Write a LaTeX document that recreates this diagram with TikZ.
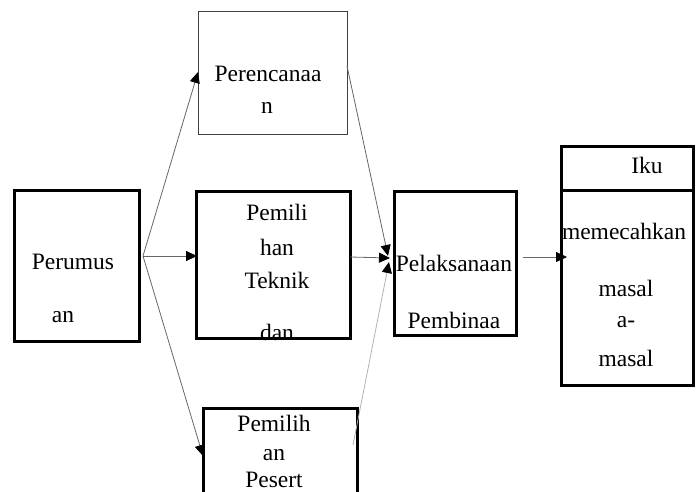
\documentclass[tikz,border=0pt]{standalone}
\usepackage{fontspec}
\setmainfont{Liberation Serif}
\usetikzlibrary{arrows.meta}
\begin{document}
\begin{tikzpicture}[x=1pt,y=-1pt,
  boxthick/.style={draw=black,line width=3pt},
  boxthin/.style={draw=black!75,line width=0.9pt},
  lbl/.style={font=\fontsize{23.5}{25}\selectfont,inner sep=0pt,anchor=center},
  conn/.style={draw=black!60,line width=0.8pt,-{Triangle[length=11pt,width=10pt,color=black,fill=black]}},
  connlight/.style={draw=black!30,line width=0.8pt,-{Triangle[length=11pt,width=10pt,color=black,fill=black]}}]
\useasboundingbox (0,0) rectangle (699,492);
\clip (0,0) rectangle (699,492);
% boxes
\draw[boxthick] (14,190) rectangle (139,341);
\draw[boxthin] (198,11) rectangle (347,134);
\draw[boxthick] (196,191) rectangle (350,338);
\draw[boxthick] (394,191) rectangle (516,335);
\draw[boxthick] (561,147) rectangle (693,190);
\draw[boxthick] (561,190) rectangle (693,385);
\draw[boxthick] (203,408) rectangle (357,530);
% texts
\node[lbl] (t1) at (73,262) {Perumus};
\node[lbl] (t2) at (63,317) {an};
\node[lbl] (t3) at (268,74) {Perencanaa};
\node[lbl] (t4) at (267,108) {n};
\node[lbl] (t5) at (277,212) {Pemili};
\node[lbl] (t6) at (277,247) {han};
\node[lbl] (t7) at (277,280) {Teknik};
\node[lbl] (t8) at (277,332) {dan};
\node[lbl] (t9) at (454,263) {Pelaksanaan};
\node[lbl] (t10) at (454,320) {Pembinaa};
\node[lbl] (t11) at (647,165) {Iku};
\node[lbl] (t12) at (624,231) {memecahkan};
\node[lbl] (t13) at (626,288) {masal};
\node[lbl] (t14) at (626,322) {a-};
\node[lbl] (t15) at (626,358) {masal};
\node[lbl] (t16) at (274,423) {Pemilih};
\node[lbl] (t17) at (274,455) {an};
\node[lbl] (t18) at (274,480) {Pesert};
% connector points
\coordinate (o) at (143,256);
\coordinate (renIn) at (198,72);
\coordinate (tekIn) at (197,256);
\coordinate (pesIn) at (203,456);
\coordinate (renOut) at (347,66);
\coordinate (tekOut) at (350,257);
\coordinate (pesOut) at (353,445);
\coordinate (pelIn1) at (388,256);
\coordinate (pelIn2) at (390,258);
\coordinate (pelIn3) at (389,262);
\coordinate (pelOut) at (523,257);
\coordinate (ikuIn) at (567,257);
% connectors
\draw[conn] (o) -- (renIn);
\draw[conn] (o) -- (tekIn);
\draw[conn] (o) -- (pesIn);
\draw[conn] (renOut) -- (pelIn1);
\draw[conn] (tekOut) -- (pelIn2);
\draw[connlight] (pesOut) -- (pelIn3);
\draw[conn] (pelOut) -- (ikuIn);
\end{tikzpicture}
\end{document}
